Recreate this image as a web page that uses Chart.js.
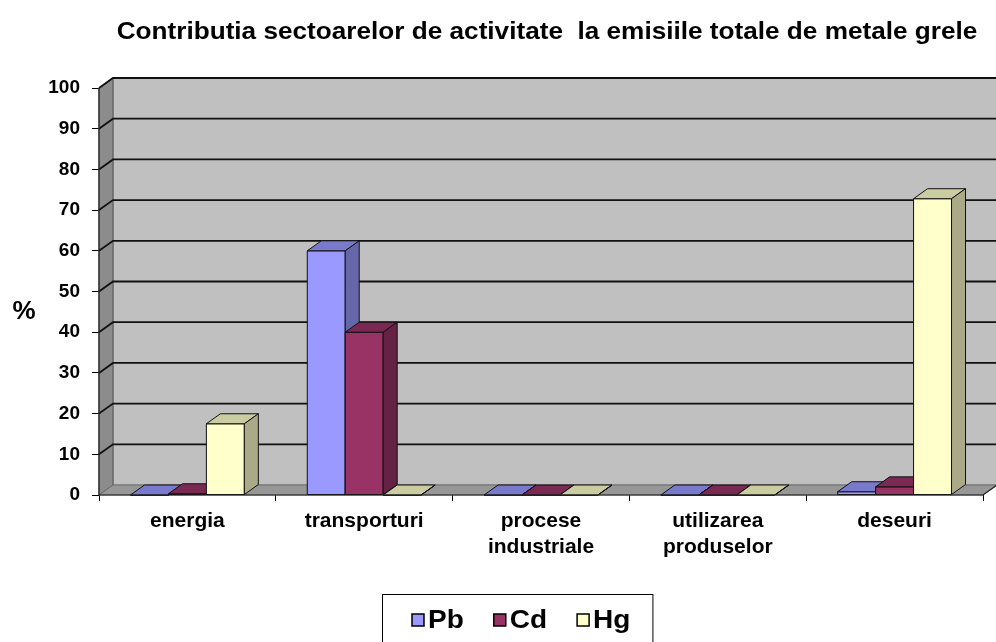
<!DOCTYPE html>
<html>
<head>
<meta charset="utf-8">
<script src="https://cdn.jsdelivr.net/npm/chart.js@4.4.0/dist/chart.umd.min.js"></script>
<style>
  html, body { margin: 0; padding: 0; background: #fff; }
  #wrap { width: 996px; height: 642px; position: relative; }
</style>
</head>
<body>
<div id="wrap"><canvas id="emisiiCanvas"></canvas></div>
<script>
var sectoare = ['energia', 'transporturi', ['procese', 'industriale'], ['utilizarea', 'produselor'], 'deseuri'];
var pb = [0, 60, 0, 0, 0.8];
var cd = [0.3, 40, 0, 0, 2];
var hg = [17.5, 0, 0, 0, 72.8];
var procente = [0, 10, 20, 30, 40, 50, 60, 70, 80, 90, 100];

var titlu = 'Contributia sectoarelor de activitate  la emisiile totale de metale grele';
var FONT = '"Liberation Sans", Arial, sans-serif';

// depth of the 3d box (back wall offset)
var DX = 14, DY = -10;

// front / top / side colours for each series
var culori = [
  { fata: '#9999FF', sus: '#7A7ACC', lat: '#6666AA' },
  { fata: '#993366', sus: '#7A2952', lat: '#662244' },
  { fata: '#FFFFCC', sus: '#CCCCA3', lat: '#AAAA88' }
];

function poly(ctx, pts, fill, stroke, lw) {
  ctx.beginPath();
  ctx.moveTo(pts[0][0], pts[0][1]);
  for (var i = 1; i < pts.length; i++) ctx.lineTo(pts[i][0], pts[i][1]);
  ctx.closePath();
  if (fill) { ctx.fillStyle = fill; ctx.fill(); }
  if (stroke) { ctx.strokeStyle = stroke; ctx.lineWidth = lw || 1; ctx.stroke(); }
}

var cutie3d = {
  id: 'cutie3d',
  beforeDatasetsDraw: function (chart) {
    var ctx = chart.ctx;
    var a = chart.chartArea;
    var ys = chart.scales.y;
    var L = a.left, R = a.right, T = a.top, B = a.bottom;
    var W = chart.width + 2;

    ctx.save();
    // back wall
    poly(ctx, [[L + DX, T + DY], [W, T + DY], [W, B + DY], [L + DX, B + DY]], '#C0C0C0', '#808080', 1);
    // left wall
    poly(ctx, [[L, T], [L + DX, T + DY], [L + DX, B + DY], [L, B]], '#8C8C8C', '#555555', 1);
    // floor
    poly(ctx, [[L, B], [R, B], [R + DX, B + DY], [L + DX, B + DY]], '#979797', '#6E6E6E', 1);

    // grid lines on the walls
    ctx.strokeStyle = '#111';
    ctx.lineWidth = 1.8;
    procente.forEach(function (v) {
      if (v === 0) return;
      var yy = ys.getPixelForValue(v);
      ctx.beginPath();
      ctx.moveTo(L, yy);
      ctx.lineTo(L + DX, yy + DY);
      ctx.lineTo(W, yy + DY);
      ctx.stroke();
    });

    // bars, left to right so later faces cover earlier side faces
    var n = chart.data.labels.length;
    for (var i = 0; i < n; i++) {
      for (var d = 0; d < chart.data.datasets.length; d++) {
        var el = chart.getDatasetMeta(d).data[i];
        var c = culori[d];
        var x0 = el.x - el.width / 2, x1 = el.x + el.width / 2;
        var top = el.y, base = el.base;
        poly(ctx, [[x0, top], [x1, top], [x1, base], [x0, base]], c.fata, '#111', 1);
        poly(ctx, [[x0, top], [x1, top], [x1 + DX, top + DY], [x0 + DX, top + DY]], c.sus, '#111', 1);
        poly(ctx, [[x1, top], [x1 + DX, top + DY], [x1 + DX, base + DY], [x1, base]], c.lat, '#111', 1);
      }
    }

    // front edges of the box
    ctx.strokeStyle = '#222';
    ctx.lineWidth = 1.2;
    ctx.beginPath();
    ctx.moveTo(L, T);
    ctx.lineTo(L, B);
    ctx.lineTo(R, B);
    ctx.lineTo(R + DX, B + DY);
    ctx.stroke();
    ctx.restore();
    return false;
  },
  afterDraw: function (chart) {
    var ctx = chart.ctx;
    ctx.save();
    ctx.fillStyle = '#000';

    // title
    ctx.font = 'bold 24px ' + FONT;
    ctx.textAlign = 'center';
    ctx.textBaseline = 'middle';
    ctx.translate(547, 32);
    ctx.scale(1.09, 1);
    ctx.fillText(titlu, 0, 0);
    ctx.setTransform(1, 0, 0, 1, 0, 0);

    // unit label next to the value axis
    ctx.font = 'bold 26px ' + FONT;
    ctx.fillText('%', 24, 312);

    // legend
    ctx.font = 'bold 25px ' + FONT;
    ctx.textAlign = 'left';
    var sx = 1.12;
    var x = 412, yMid = 620;
    var start = x - 30;
    chart.data.datasets.forEach(function (ds, k) {
      ctx.fillStyle = culori[k].fata;
      ctx.fillRect(x, yMid - 6, 12, 12);
      ctx.strokeStyle = '#000';
      ctx.lineWidth = 1.5;
      ctx.strokeRect(x, yMid - 6, 12, 12);
      ctx.fillStyle = '#000';
      ctx.save();
      ctx.translate(x + 16, yMid + 1);
      ctx.scale(sx, 1);
      ctx.fillText(ds.label, 0, 0);
      ctx.restore();
      x += 16 + ctx.measureText(ds.label).width * sx + 30;
    });
    ctx.strokeStyle = '#000';
    ctx.lineWidth = 1;
    ctx.strokeRect(start + 0.5, 594.5, x - 30 + 22 - start, 60);
    ctx.restore();
  }
};

new Chart(document.getElementById('emisiiCanvas').getContext('2d'), {
  type: 'bar',
  data: {
    labels: sectoare,
    datasets: [
      { label: 'Pb', data: pb, backgroundColor: culori[0].fata },
      { label: 'Cd', data: cd, backgroundColor: culori[1].fata },
      { label: 'Hg', data: hg, backgroundColor: culori[2].fata }
    ]
  },
  options: {
    responsive: true,
    maintainAspectRatio: false,
    animation: false,
    events: [],
    layout: { padding: { left: 0, right: 13, top: 88, bottom: 0 } },
    datasets: { bar: { categoryPercentage: 0.644, barPercentage: 1 } },
    plugins: {
      legend: { display: false },
      title: { display: false },
      tooltip: { enabled: false }
    },
    scales: {
      x: {
        offset: true,
        border: { display: false },
        grid: { offset: true, drawOnChartArea: false, tickLength: 6, color: '#000', lineWidth: 1 },
        ticks: {
          autoSkip: false,
          maxRotation: 0,
          padding: 8,
          color: '#000',
          font: { family: FONT, size: 21, weight: 'bold', lineHeight: 1.2 }
        },
        afterFit: function (s) { s.height = 147; }
      },
      y: {
        min: 0,
        max: 100,
        border: { display: false },
        grid: { drawOnChartArea: false, tickLength: 7, color: '#000', lineWidth: 1 },
        ticks: {
          padding: 12,
          color: '#000',
          font: { family: FONT, size: 19, weight: 'bold' }
        },
        afterBuildTicks: function (s) {
          s.ticks = procente.map(function (v) { return { value: v }; });
        },
        afterFit: function (s) { s.width = 99; }
      }
    }
  },
  plugins: [cutie3d]
});
</script>
</body>
</html>
